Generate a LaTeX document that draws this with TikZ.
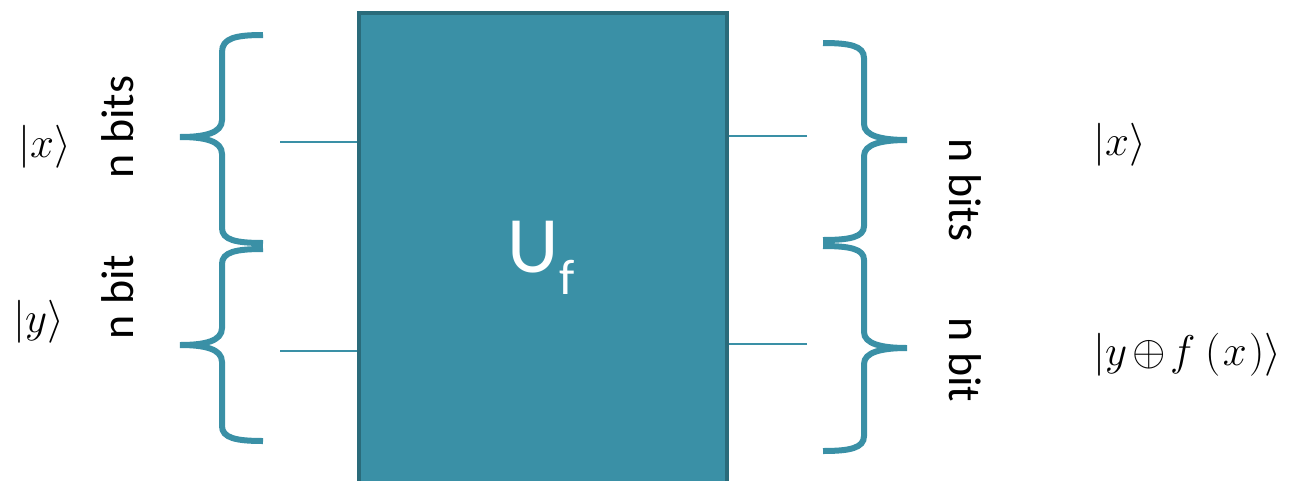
\RequirePackage{fix-cm}
\documentclass[tikz,border=0pt]{standalone}
\usepackage{fontspec}
\setmainfont{Carlito}
\definecolor{teal1}{HTML}{3A90A6}
\definecolor{teal2}{HTML}{2A6B7A}
\tikzset{
  wire/.style={draw=teal1, line width=2pt},
  bracestyle/.style={draw=teal1, line width=6pt, line cap=butt},
  bitlabel/.style={font=\fontsize{46}{50}\selectfont, inner sep=0pt},
  ketlabel/.style={font=\fontsize{43}{48}\selectfont, inner sep=0pt, anchor=west},
}
\begin{document}
\begin{tikzpicture}[x=1pt,y=-1pt]
\useasboundingbox (0,0) rectangle (1289,480);
% box
\node[draw=teal2, fill=teal1, line width=4pt, minimum width=368pt, minimum height=498pt, inner sep=0pt] (box) at (543,262) {};
\node[text=white, inner sep=0pt, font=\fontsize{80}{90}\selectfont] (uf) at (541,258) {U\raisebox{-0.28em}{\fontsize{50}{55}\selectfont f}};
% wires
\coordinate (inA) at (280,142);
\coordinate (inB) at (280,351);
\coordinate (outA) at (807,136);
\coordinate (outB) at (807,344);
\draw[wire] (inA) -- (inA -| box.west);
\draw[wire] (inB) -- (inB -| box.west);
\draw[wire] (outA) -- (outA -| box.east);
\draw[wire] (outB) -- (outB -| box.east);
% left braces
\draw[bracestyle] (263,35) .. controls (236,35) and (222,38) .. (222,52) -- (222,120)
   .. controls (222,133) and (205,137) .. (180,137)
   .. controls (205,137) and (222,141) .. (222,154) -- (222,228)
   .. controls (222,240) and (236,243) .. (263,243);
\draw[bracestyle] (263,249) .. controls (236,249) and (222,252) .. (222,264) -- (222,328)
   .. controls (222,341) and (205,345) .. (180,345)
   .. controls (205,345) and (222,349) .. (222,362) -- (222,426)
   .. controls (222,438) and (236,441) .. (263,441);
% right braces
\draw[bracestyle] (823,43) .. controls (850,43) and (864,46) .. (864,58) -- (864,124)
   .. controls (864,136) and (882,140) .. (907,140)
   .. controls (882,140) and (864,144) .. (864,156) -- (864,226)
   .. controls (864,237) and (850,240) .. (823,240);
\draw[bracestyle] (823,246) .. controls (850,246) and (864,249) .. (864,260) -- (864,332)
   .. controls (864,344) and (882,348) .. (907,348)
   .. controls (882,348) and (864,352) .. (864,364) -- (864,436)
   .. controls (864,448) and (850,451) .. (823,451);
% bit labels
\node[bitlabel, rotate=90] (lb1) at (118,127) {n bits};
\node[bitlabel, rotate=90] (lb2) at (118,297) {n bit};
\node[bitlabel, rotate=-90] (rb1) at (965,190) {n bits};
\node[bitlabel, rotate=-90] (rb2) at (965,360) {n bit};
% kets
\node[ketlabel] (kx) at (18,147) {$|x\rangle$};
\node[ketlabel] (ky) at (13,322) {$|y\rangle$};
\node[ketlabel] (ox) at (1093,145) {$|x\rangle$};
\node[ketlabel] (oy) at (1093,355) {$|y\mkern2mu{\oplus}\mkern2mu f\mkern4mu(\mkern1mu x\mkern1mu)\rangle$};
\end{tikzpicture}
\end{document}
